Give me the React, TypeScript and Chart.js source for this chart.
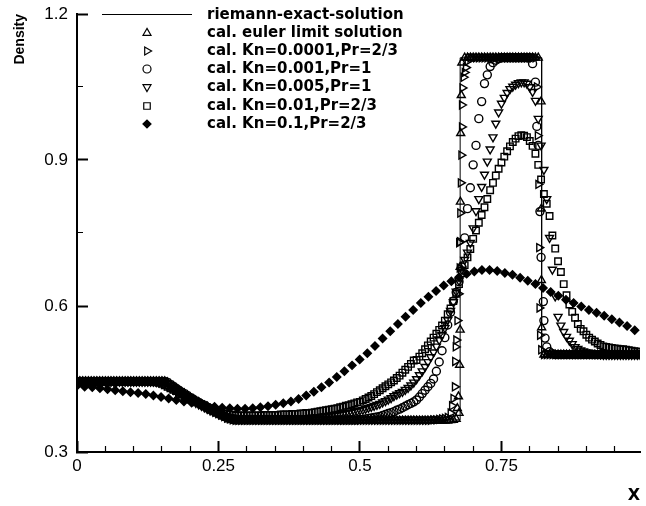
import React, { useEffect, useRef } from 'react';
import { Chart, registerables } from 'chart.js';
import { drawPoint } from 'chart.js/helpers';

Chart.register(...registerables);

const FONT = '"Liberation Sans", Arial, Helvetica, sans-serif';
const LEGEND_FONT = '"DejaVu Sans", "Liberation Sans", Arial, sans-serif';

// ---------------- DATA ----------------
const LABELS = [
  'riemann-exact-solution',
  'cal. euler limit solution',
  'cal. Kn=0.0001,Pr=2/3',
  'cal. Kn=0.001,Pr=1',
  'cal. Kn=0.005,Pr=1',
  'cal. Kn=0.01,Pr=2/3',
  'cal. Kn=0.1,Pr=2/3',
];

const X_TICK_LABELS = ['0', '0.25', '0.5', '0.75'];
const Y_TICK_LABELS = ['0.3', '0.6', '0.9', '1.2'];

const EXACT_X = [0, 0.157, 0.17, 0.18, 0.19, 0.2, 0.21, 0.22, 0.23, 0.24, 0.25, 0.266, 0.677, 0.677, 0.821, 0.821, 0.995];
const EXACT_Y = [0.445, 0.445, 0.435, 0.427, 0.42, 0.412, 0.405, 0.398, 0.392, 0.385, 0.379, 0.366, 0.366, 1.11, 1.11, 0.5, 0.5];

const GRID_X = [
  0, 0.005, 0.01, 0.015, 0.02, 0.025, 0.03, 0.035, 0.04, 0.045,
  0.05, 0.055, 0.06, 0.065, 0.07, 0.075, 0.08, 0.085, 0.09, 0.095,
  0.1, 0.105, 0.11, 0.115, 0.12, 0.125, 0.13, 0.135, 0.14, 0.145,
  0.15, 0.155, 0.16, 0.165, 0.17, 0.175, 0.18, 0.185, 0.19, 0.195,
  0.2, 0.205, 0.21, 0.215, 0.22, 0.225, 0.23, 0.235, 0.24, 0.245,
  0.25, 0.255, 0.26, 0.265, 0.27, 0.275, 0.28, 0.285, 0.29, 0.295,
  0.3, 0.305, 0.31, 0.315, 0.32, 0.325, 0.33, 0.335, 0.34, 0.345,
  0.35, 0.355, 0.36, 0.365, 0.37, 0.375, 0.38, 0.385, 0.39, 0.395,
  0.4, 0.405, 0.41, 0.415, 0.42, 0.425, 0.43, 0.435, 0.44, 0.445,
  0.45, 0.455, 0.46, 0.465, 0.47, 0.475, 0.48, 0.485, 0.49, 0.495,
  0.5, 0.505, 0.51, 0.515, 0.52, 0.525, 0.53, 0.535, 0.54, 0.545,
  0.55, 0.555, 0.56, 0.565, 0.57, 0.575, 0.58, 0.585, 0.59, 0.595,
  0.6, 0.605, 0.61, 0.615, 0.62, 0.625, 0.63, 0.635, 0.64, 0.645,
  0.65, 0.655, 0.66, 0.665, 0.67, 0.675, 0.68, 0.685, 0.69, 0.695,
  0.7, 0.705, 0.71, 0.715, 0.72, 0.725, 0.73, 0.735, 0.74, 0.745,
  0.75, 0.755, 0.76, 0.765, 0.77, 0.775, 0.78, 0.785, 0.79, 0.795,
  0.8, 0.805, 0.81, 0.815, 0.82, 0.825, 0.83, 0.835, 0.84, 0.845,
  0.85, 0.855, 0.86, 0.865, 0.87, 0.875, 0.88, 0.885, 0.89, 0.895,
  0.9, 0.905, 0.91, 0.915, 0.92, 0.925, 0.93, 0.935, 0.94, 0.945,
  0.95, 0.955, 0.96, 0.965, 0.97, 0.975, 0.98, 0.985, 0.99, 0.995,
];

// cal. euler limit solution (on GRID_X)
const EULER_Y = [
  0.445, 0.445, 0.445, 0.445, 0.445, 0.445, 0.445, 0.445, 0.445, 0.445,
  0.445, 0.445, 0.445, 0.445, 0.445, 0.445, 0.445, 0.445, 0.445, 0.445,
  0.445, 0.445, 0.445, 0.445, 0.445, 0.445, 0.445, 0.445, 0.445, 0.445,
  0.445, 0.445, 0.443, 0.439, 0.435, 0.431, 0.427, 0.423, 0.42, 0.416,
  0.412, 0.409, 0.405, 0.402, 0.398, 0.395, 0.392, 0.388, 0.385, 0.382,
  0.379, 0.376, 0.373, 0.37, 0.367, 0.365, 0.364, 0.364, 0.364, 0.364,
  0.364, 0.364, 0.364, 0.364, 0.364, 0.364, 0.364, 0.364, 0.364, 0.364,
  0.364, 0.364, 0.364, 0.364, 0.364, 0.364, 0.364, 0.364, 0.364, 0.364,
  0.364, 0.364, 0.364, 0.364, 0.364, 0.364, 0.364, 0.364, 0.364, 0.364,
  0.364, 0.364, 0.364, 0.364, 0.364, 0.364, 0.364, 0.364, 0.364, 0.364,
  0.364, 0.364, 0.364, 0.364, 0.364, 0.364, 0.364, 0.364, 0.364, 0.364,
  0.364, 0.364, 0.364, 0.364, 0.364, 0.364, 0.364, 0.364, 0.364, 0.364,
  0.364, 0.364, 0.364, 0.364, 0.364, 0.364, 0.364, 0.364, 0.364, 0.364,
  0.364, 0.364, 0.365, 0.366, 0.368, 0.38, 1.1, 1.11, 1.11, 1.11,
  1.11, 1.11, 1.11, 1.11, 1.11, 1.11, 1.11, 1.11, 1.11, 1.11,
  1.11, 1.11, 1.11, 1.11, 1.11, 1.11, 1.11, 1.11, 1.11, 1.11,
  1.11, 1.11, 1.11, 1.11, 1.02, 0.5, 0.5, 0.5, 0.5, 0.5,
  0.5, 0.5, 0.5, 0.5, 0.5, 0.5, 0.5, 0.5, 0.5, 0.5,
  0.5, 0.5, 0.5, 0.5, 0.5, 0.5, 0.5, 0.5, 0.5, 0.5,
  0.5, 0.5, 0.5, 0.5, 0.5, 0.5, 0.5, 0.5, 0.5, 0.5,
];
const EULER_EX_X = [0.672, 0.674, 0.676, 0.677, 0.677, 0.6775, 0.678, 0.679, 0.8205, 0.8205, 0.821];
const EULER_EX_Y = [0.39, 0.414, 0.479, 0.551, 0.68, 0.814, 0.955, 1.033, 0.8, 0.653, 0.556];

// cal. Kn=0.0001,Pr=2/3 (on GRID_X)
const KN1_Y = [
  0.445, 0.445, 0.445, 0.445, 0.445, 0.445, 0.445, 0.445, 0.445, 0.445,
  0.445, 0.445, 0.445, 0.445, 0.445, 0.445, 0.445, 0.445, 0.445, 0.445,
  0.445, 0.445, 0.445, 0.445, 0.445, 0.445, 0.445, 0.445, 0.445, 0.445,
  0.445, 0.445, 0.443, 0.439, 0.435, 0.431, 0.427, 0.423, 0.42, 0.416,
  0.412, 0.409, 0.405, 0.402, 0.398, 0.395, 0.392, 0.388, 0.385, 0.382,
  0.379, 0.376, 0.373, 0.37, 0.368, 0.366, 0.365, 0.365, 0.365, 0.365,
  0.365, 0.365, 0.365, 0.365, 0.365, 0.365, 0.365, 0.365, 0.365, 0.365,
  0.365, 0.365, 0.365, 0.365, 0.365, 0.365, 0.365, 0.365, 0.365, 0.365,
  0.365, 0.365, 0.365, 0.365, 0.365, 0.365, 0.365, 0.365, 0.365, 0.365,
  0.365, 0.365, 0.365, 0.365, 0.365, 0.365, 0.365, 0.365, 0.365, 0.365,
  0.365, 0.365, 0.365, 0.365, 0.365, 0.365, 0.365, 0.365, 0.365, 0.365,
  0.365, 0.365, 0.365, 0.365, 0.365, 0.365, 0.365, 0.365, 0.365, 0.365,
  0.365, 0.365, 0.365, 0.365, 0.365, 0.365, 0.366, 0.366, 0.367, 0.368,
  0.369, 0.371, 0.38, 0.41, 0.53, 0.73, 1.013, 1.08, 1.103, 1.11,
  1.11, 1.11, 1.11, 1.11, 1.11, 1.11, 1.11, 1.11, 1.11, 1.11,
  1.11, 1.11, 1.11, 1.11, 1.11, 1.11, 1.11, 1.11, 1.11, 1.11,
  1.11, 1.11, 1.11, 0.85, 0.51, 0.5, 0.5, 0.5, 0.5, 0.5,
  0.5, 0.5, 0.5, 0.5, 0.5, 0.5, 0.5, 0.5, 0.5, 0.5,
  0.5, 0.5, 0.5, 0.5, 0.5, 0.5, 0.5, 0.5, 0.5, 0.5,
  0.5, 0.5, 0.5, 0.5, 0.5, 0.5, 0.5, 0.5, 0.5, 0.5,
];
const KN1_EX_X = [0.6625, 0.6675, 0.668, 0.669, 0.672, 0.674, 0.676, 0.6765, 0.677, 0.678, 0.679, 0.68, 0.681, 0.683, 0.687, 0.8125, 0.814, 0.8165, 0.817, 0.818];
const KN1_EX_Y = [0.395, 0.434, 0.486, 0.516, 0.57, 0.625, 0.678, 0.732, 0.791, 0.853, 0.91, 0.968, 1.048, 1.07, 1.09, 1.05, 0.95, 0.72, 0.596, 0.54];

// cal. Kn=0.001,Pr=1 (on GRID_X)
const KN2_Y = [
  0.445, 0.445, 0.445, 0.445, 0.445, 0.445, 0.445, 0.445, 0.445, 0.445,
  0.445, 0.445, 0.445, 0.445, 0.445, 0.445, 0.445, 0.445, 0.445, 0.445,
  0.445, 0.445, 0.445, 0.445, 0.445, 0.445, 0.445, 0.445, 0.445, 0.445,
  0.445, 0.445, 0.443, 0.439, 0.435, 0.431, 0.427, 0.423, 0.42, 0.416,
  0.412, 0.409, 0.405, 0.402, 0.398, 0.395, 0.392, 0.389, 0.386, 0.383,
  0.38, 0.377, 0.374, 0.371, 0.369, 0.367, 0.366, 0.366, 0.366, 0.366,
  0.366, 0.366, 0.366, 0.366, 0.366, 0.366, 0.366, 0.366, 0.366, 0.366,
  0.366, 0.366, 0.366, 0.366, 0.366, 0.366, 0.366, 0.366, 0.366, 0.366,
  0.366, 0.366, 0.366, 0.366, 0.366, 0.366, 0.366, 0.366, 0.366, 0.366,
  0.366, 0.366, 0.366, 0.366, 0.366, 0.366, 0.366, 0.366, 0.366, 0.366,
  0.367, 0.367, 0.368, 0.369, 0.37, 0.371, 0.372, 0.373, 0.375, 0.377,
  0.379, 0.381, 0.383, 0.386, 0.388, 0.391, 0.394, 0.397, 0.4, 0.403,
  0.407, 0.413, 0.42, 0.427, 0.434, 0.441, 0.45, 0.466, 0.485, 0.508,
  0.535, 0.561, 0.587, 0.61, 0.628, 0.65, 0.68, 0.74, 0.8, 0.843,
  0.89, 0.93, 0.985, 1.02, 1.057, 1.075, 1.092, 1.1, 1.105, 1.108,
  1.11, 1.11, 1.11, 1.11, 1.11, 1.11, 1.11, 1.11, 1.11, 1.11,
  1.11, 1.098, 1.06, 0.93, 0.7, 0.57, 0.516, 0.506, 0.502, 0.5,
  0.5, 0.5, 0.5, 0.5, 0.5, 0.5, 0.5, 0.5, 0.5, 0.5,
  0.5, 0.5, 0.5, 0.5, 0.5, 0.5, 0.5, 0.5, 0.5, 0.5,
  0.5, 0.5, 0.5, 0.5, 0.5, 0.5, 0.5, 0.5, 0.5, 0.5,
];
const KN2_EX_X = [0.8125, 0.818, 0.824, 0.827];
const KN2_EX_Y = [0.969, 0.794, 0.609, 0.534];

// cal. Kn=0.005,Pr=1 (on GRID_X)
const KN3_Y = [
  0.445, 0.445, 0.445, 0.445, 0.445, 0.445, 0.445, 0.445, 0.445, 0.445,
  0.445, 0.445, 0.445, 0.445, 0.445, 0.445, 0.445, 0.445, 0.445, 0.445,
  0.445, 0.445, 0.445, 0.445, 0.445, 0.445, 0.445, 0.445, 0.444, 0.443,
  0.441, 0.438, 0.435, 0.432, 0.428, 0.425, 0.421, 0.418, 0.414, 0.411,
  0.408, 0.405, 0.401, 0.398, 0.395, 0.392, 0.389, 0.386, 0.383, 0.381,
  0.378, 0.376, 0.374, 0.373, 0.372, 0.371, 0.37, 0.37, 0.37, 0.37,
  0.37, 0.37, 0.37, 0.37, 0.37, 0.37, 0.37, 0.37, 0.37, 0.37,
  0.37, 0.37, 0.37, 0.37, 0.37, 0.37, 0.37, 0.37, 0.37, 0.37,
  0.37, 0.37, 0.37, 0.371, 0.371, 0.372, 0.372, 0.373, 0.373, 0.374,
  0.374, 0.375, 0.376, 0.377, 0.378, 0.379, 0.38, 0.381, 0.383, 0.384,
  0.386, 0.387, 0.389, 0.391, 0.393, 0.395, 0.397, 0.399, 0.402, 0.405,
  0.408, 0.411, 0.415, 0.418, 0.421, 0.424, 0.428, 0.432, 0.437, 0.443,
  0.45, 0.458, 0.466, 0.475, 0.485, 0.495, 0.505, 0.517, 0.53, 0.541,
  0.555, 0.571, 0.59, 0.608, 0.63, 0.652, 0.675, 0.695, 0.71, 0.73,
  0.76, 0.795, 0.82, 0.845, 0.87, 0.897, 0.922, 0.947, 0.975, 0.998,
  1.016, 1.028, 1.038, 1.046, 1.051, 1.055, 1.058, 1.06, 1.06, 1.057,
  1.05, 1.04, 1.022, 0.985, 0.93, 0.88, 0.82, 0.74, 0.675, 0.62,
  0.578, 0.56, 0.547, 0.537, 0.529, 0.522, 0.516, 0.512, 0.509, 0.507,
  0.505, 0.504, 0.503, 0.502, 0.502, 0.501, 0.5, 0.5, 0.5, 0.5,
  0.5, 0.5, 0.5, 0.5, 0.5, 0.5, 0.5, 0.5, 0.5, 0.5,
];

// cal. Kn=0.01,Pr=2/3 (on GRID_X)
const KN4_Y = [
  0.445, 0.445, 0.445, 0.445, 0.445, 0.445, 0.445, 0.445, 0.445, 0.445,
  0.445, 0.445, 0.445, 0.445, 0.445, 0.445, 0.445, 0.445, 0.445, 0.445,
  0.445, 0.445, 0.445, 0.445, 0.445, 0.445, 0.444, 0.444, 0.443, 0.442,
  0.44, 0.437, 0.434, 0.431, 0.428, 0.425, 0.422, 0.419, 0.416, 0.413,
  0.41, 0.407, 0.404, 0.401, 0.398, 0.395, 0.392, 0.39, 0.387, 0.385,
  0.383, 0.381, 0.379, 0.378, 0.377, 0.376, 0.375, 0.375, 0.375, 0.375,
  0.375, 0.375, 0.375, 0.375, 0.375, 0.375, 0.376, 0.376, 0.376, 0.376,
  0.376, 0.376, 0.377, 0.377, 0.377, 0.377, 0.378, 0.378, 0.378, 0.379,
  0.379, 0.38, 0.38, 0.381, 0.382, 0.383, 0.384, 0.385, 0.386, 0.387,
  0.388, 0.389, 0.39, 0.392, 0.393, 0.395, 0.396, 0.398, 0.4, 0.402,
  0.403, 0.406, 0.409, 0.412, 0.415, 0.419, 0.423, 0.427, 0.431, 0.435,
  0.439, 0.443, 0.447, 0.452, 0.457, 0.463, 0.469, 0.475, 0.481, 0.488,
  0.489, 0.496, 0.503, 0.511, 0.519, 0.527, 0.535, 0.543, 0.551, 0.56,
  0.57, 0.583, 0.595, 0.61, 0.625, 0.645, 0.667, 0.684, 0.7, 0.717,
  0.738, 0.755, 0.771, 0.787, 0.803, 0.82, 0.838, 0.853, 0.868, 0.882,
  0.895, 0.907, 0.918, 0.928, 0.937, 0.944, 0.949, 0.951, 0.95, 0.947,
  0.939, 0.929, 0.913, 0.89, 0.86, 0.83, 0.81, 0.785, 0.745, 0.718,
  0.692, 0.67, 0.645, 0.622, 0.603, 0.588, 0.576, 0.563, 0.553, 0.548,
  0.541, 0.535, 0.531, 0.527, 0.523, 0.52, 0.517, 0.516, 0.515, 0.514,
  0.513, 0.512, 0.511, 0.511, 0.51, 0.509, 0.508, 0.507, 0.506, 0.506,
];

// cal. Kn=0.1,Pr=2/3 (its own grid)
const KN5_X = [
  0, 0.0135, 0.027, 0.0405, 0.054, 0.0675, 0.081, 0.0945, 0.108, 0.1215,
  0.135, 0.1485, 0.162, 0.1755, 0.189, 0.2025, 0.216, 0.2295, 0.243, 0.2565,
  0.27, 0.2835, 0.297, 0.3105, 0.324, 0.3375, 0.351, 0.3645, 0.378, 0.3915,
  0.405, 0.4185, 0.432, 0.4455, 0.459, 0.4725, 0.486, 0.4995, 0.513, 0.5265,
  0.54, 0.5535, 0.567, 0.5805, 0.594, 0.6075, 0.621, 0.6345, 0.648, 0.6615,
  0.675, 0.6885, 0.702, 0.7155, 0.729, 0.7425, 0.756, 0.7695, 0.783, 0.7965,
  0.81, 0.8235, 0.837, 0.8505, 0.864, 0.8775, 0.891, 0.9045, 0.918, 0.9315,
  0.945, 0.9585, 0.972, 0.9855,
];
const KN5_Y = [
  0.436, 0.434, 0.433, 0.431, 0.429, 0.427, 0.425, 0.423, 0.421, 0.419,
  0.416, 0.413, 0.41, 0.407, 0.404, 0.401, 0.398, 0.395, 0.393, 0.391,
  0.39, 0.389, 0.389, 0.39, 0.392, 0.394, 0.397, 0.4, 0.404, 0.409,
  0.416, 0.424, 0.433, 0.443, 0.454, 0.466, 0.478, 0.49, 0.503, 0.518,
  0.533, 0.548, 0.563, 0.578, 0.592, 0.606, 0.619, 0.631, 0.642, 0.651,
  0.659, 0.666, 0.671, 0.674, 0.674, 0.672, 0.668, 0.664, 0.658, 0.652,
  0.645, 0.637, 0.629, 0.621, 0.613, 0.606, 0.599, 0.592, 0.586, 0.58,
  0.573, 0.566, 0.559, 0.55,
];

// ---------------- helpers ----------------
function pts(xs: number[], ys: number[]) {
  const out: { x: number; y: number }[] = [];
  const n = Math.min(xs.length, ys.length);
  for (let i = 0; i < n; i++) out.push({ x: xs[i], y: ys[i] });
  return out;
}

const X_MIN = 0;
const X_MAX = 0.9948;
const Y_MIN = 0.3;
const Y_MAX = 1.2;
const X_STEP = 0.05;
const X_MAJOR = 0.25;
const Y_STEP = 0.15;
const Y_MAJOR = 0.3;
const TICK_LEN = -11; // negative: ticks point into the plot

function markerSet(label: string, data: { x: number; y: number }[], style: string, rotation: number, radius: number, filled: boolean) {
  return {
    label,
    data,
    showLine: false,
    pointStyle: style,
    rotation,
    pointRadius: radius,
    pointHoverRadius: radius,
    pointBorderWidth: 1.4,
    pointBorderColor: '#000',
    pointBackgroundColor: filled ? '#000' : 'rgba(0,0,0,0)',
    borderColor: '#000',
    backgroundColor: filled ? '#000' : 'rgba(0,0,0,0)',
  };
}

function isMultiple(v: number, step: number) {
  const r = v / step;
  return Math.abs(r - Math.round(r)) < 1e-6;
}

function drawLegend(chart: any) {
  const ctx = chart.ctx as CanvasRenderingContext2D;
  const top = 15;
  const rowH = 18.1;
  const markerX = 147;
  const lineX0 = 102;
  const lineX1 = 192;
  const textX = 207;
  ctx.save();
  ctx.font = `bold 15px ${LEGEND_FONT}`;
  ctx.textBaseline = 'middle';
  ctx.textAlign = 'left';
  chart.data.datasets.forEach((ds: any, i: number) => {
    const y = Math.round(top + rowH * i);
    ctx.strokeStyle = '#000';
    ctx.lineWidth = 1;
    if (ds.showLine) {
      ctx.beginPath();
      ctx.moveTo(lineX0, y - 0.5);
      ctx.lineTo(lineX1, y - 0.5);
      ctx.stroke();
    } else {
      ctx.fillStyle = ds.pointBackgroundColor;
      ctx.lineWidth = 1.2;
      drawPoint(ctx, { pointStyle: ds.pointStyle, rotation: ds.rotation, radius: ds.pointRadius, borderWidth: 1.2 } as any, markerX, y);
    }
    ctx.fillStyle = '#000';
    ctx.fillText(ds.label, textX, y);
  });
  ctx.restore();
}

const legendPlugin = {
  id: 'insideLegend',
  afterDraw(chart: any) {
    drawLegend(chart);
  },
};

export default function App() {
  const ref = useRef<HTMLCanvasElement>(null);

  useEffect(() => {
    const canvas = ref.current;
    if (!canvas) return;

    const datasets: any[] = [
      {
        label: LABELS[0],
        data: pts(EXACT_X, EXACT_Y),
        showLine: true,
        borderColor: '#000',
        borderWidth: 1,
        pointRadius: 0,
        pointHoverRadius: 0,
        fill: false,
        tension: 0,
      },
      markerSet(LABELS[1], pts(GRID_X, EULER_Y).concat(pts(EULER_EX_X, EULER_EX_Y)), 'triangle', 0, 4.6, false),
      markerSet(LABELS[2], pts(GRID_X, KN1_Y).concat(pts(KN1_EX_X, KN1_EX_Y)), 'triangle', 90, 4.6, false),
      markerSet(LABELS[3], pts(GRID_X, KN2_Y).concat(pts(KN2_EX_X, KN2_EX_Y)), 'circle', 0, 4, false),
      markerSet(LABELS[4], pts(GRID_X, KN3_Y), 'triangle', 180, 4.6, false),
      markerSet(LABELS[5], pts(GRID_X, KN4_Y), 'rect', 0, 4.6, false),
      markerSet(LABELS[6], pts(KN5_X, KN5_Y), 'rectRot', 0, 4, true),
    ];

    // tick marks point inward; minor ticks are shortened with a dash pattern
    // (x ticks are stroked from the axis inward, y ticks from inside toward the axis)
    const tickGrid = (major: number, minorDash: number[]) => ({
      display: true,
      drawOnChartArea: false,
      drawTicks: true,
      tickLength: TICK_LEN,
      tickColor: '#000',
      tickWidth: (c: any) => (c.tick && isMultiple(c.tick.value, major) ? 2 : 1.2),
      tickBorderDash: (c: any) => (c.tick && isMultiple(c.tick.value, major) ? [12, 0] : minorDash),
    });

    const chart = new Chart(canvas, {
      type: 'scatter',
      data: { datasets },
      options: {
        animation: false,
        responsive: false,
        devicePixelRatio: 1,
        events: [],
        layout: { padding: { top: 14, right: 0, bottom: 0, left: 0 } },
        plugins: {
          legend: { display: false },
          tooltip: { enabled: false },
        },
        scales: {
          x: {
            type: 'linear',
            min: X_MIN,
            max: X_MAX,
            afterFit: (s: any) => {
              s.height = 54;
              s.paddingLeft = 0;
              s.paddingRight = 0;
              s.paddingTop = 0;
              s.paddingBottom = 0;
            },
            border: { display: true, color: '#000', width: 2 },
            grid: tickGrid(X_MAJOR, [7, 100]),
            ticks: {
              stepSize: X_STEP,
              includeBounds: false,
              autoSkip: false,
              maxRotation: 0,
              padding: 4 - TICK_LEN,
              color: '#000',
              font: { family: FONT, size: 17 },
              callback: (v: any) => {
                const n = Number(v);
                if (!isMultiple(n, X_MAJOR)) return '';
                const idx = Math.round(n / X_MAJOR);
                return X_TICK_LABELS[idx] ?? '';
              },
            },
            title: {
              display: true,
              text: 'X',
              align: 'end',
              color: '#000',
              font: { family: LEGEND_FONT, size: 16, weight: 'bold' },
              padding: { top: 0, bottom: 1 },
            },
          },
          y: {
            type: 'linear',
            min: Y_MIN,
            max: Y_MAX,
            afterFit: (s: any) => {
              s.width = 77;
              s.paddingLeft = 0;
              s.paddingRight = 0;
              s.paddingTop = 0;
              s.paddingBottom = 0;
            },
            border: { display: true, color: '#000', width: 2 },
            grid: tickGrid(Y_MAJOR, [0, 5, 8, 100]),
            ticks: {
              stepSize: Y_STEP,
              includeBounds: false,
              autoSkip: false,
              padding: 9 - TICK_LEN,
              color: '#000',
              font: { family: FONT, size: 17 },
              callback: (v: any) => {
                const n = Number(v);
                if (!isMultiple(n, Y_MAJOR)) return '';
                const idx = Math.round(n / Y_MAJOR) - 1;
                return Y_TICK_LABELS[idx] ?? '';
              },
            },
            title: {
              display: true,
              text: 'Density',
              align: 'end',
              color: '#000',
              font: { family: FONT, size: 14, weight: 'bold' },
              padding: { top: 12, bottom: 0 },
            },
          },
        },
      } as any,
      plugins: [legendPlugin],
    });

    return () => chart.destroy();
  }, []);

  return (
    <div style={{ position: 'fixed', left: 0, top: 0, width: 646, height: 506, background: '#fff' }}>
      <canvas ref={ref} width={646} height={506} style={{ display: 'block', width: 646, height: 506 }} />
    </div>
  );
}
